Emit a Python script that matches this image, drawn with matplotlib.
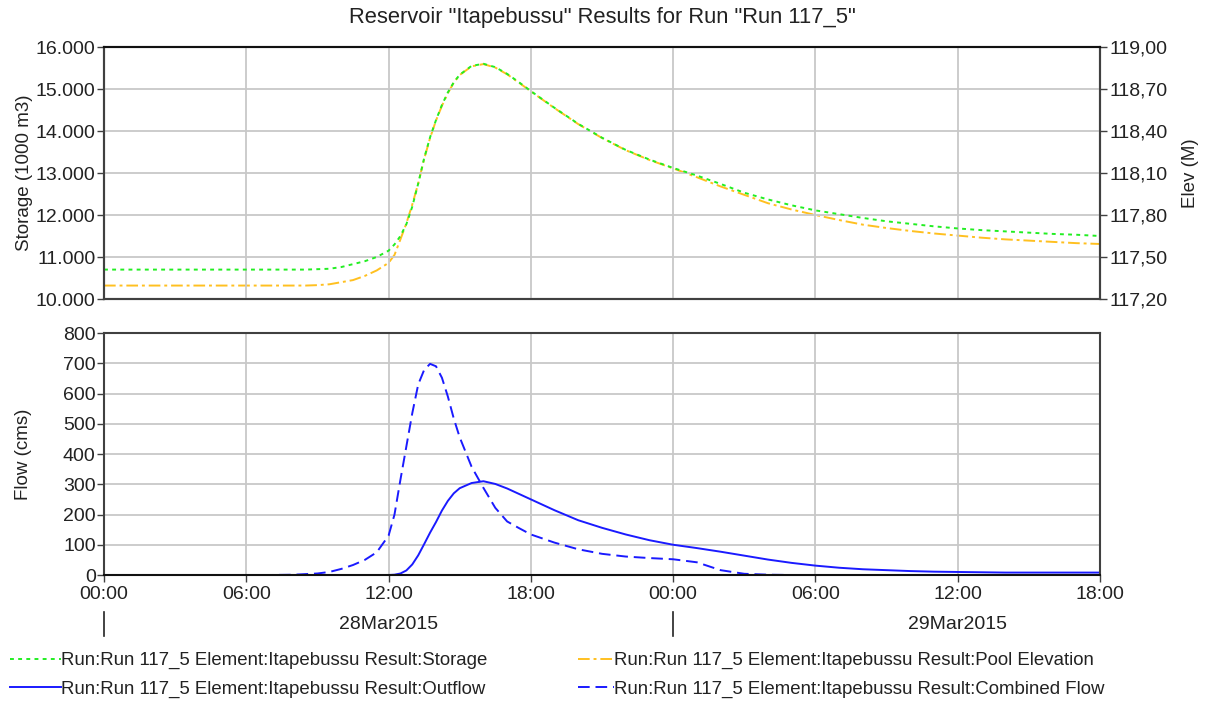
import matplotlib
matplotlib.use("Agg")
import matplotlib.pyplot as plt
import matplotlib.dates as mdates
import matplotlib.transforms as mtransforms
from matplotlib.lines import Line2D
from matplotlib.ticker import FuncFormatter, MultipleLocator
import pandas as pd

plt.rcParams["font.family"] = ["Liberation Sans", "DejaVu Sans"]

# ---- data -------------------------------------------------------------
TITLE = 'Reservoir "Itapebussu" Results for Run "Run 117_5"'
START = "2015-03-28 00:00"
END_HOURS = 42

HOURS = [0, 1, 2, 3, 4, 5, 6, 7, 8,
         8.5, 9, 9.5, 10, 10.5, 11, 11.5,
         12, 12.25, 12.5, 12.75, 13, 13.25, 13.5, 13.75, 14, 14.25, 14.5, 14.75, 15,
         15.5, 16, 16.5, 17, 17.5,
         18, 19, 20, 21, 22, 23, 24, 25, 26, 27, 28, 29, 30,
         31, 32, 33, 34, 35, 36, 37, 38, 39, 40, 41, 42]

# storage, 1000 m3
STORAGE = [10700, 10700, 10700, 10700, 10700, 10700, 10700, 10700, 10700,
           10700, 10710, 10720, 10760, 10830, 10900, 11000,
           11150, 11300, 11500, 11780, 12200, 12750, 13350, 13850, 14260, 14620, 14920, 15160, 15340,
           15550, 15600, 15520, 15360, 15160,
           14950, 14550, 14170, 13840, 13550, 13320, 13120, 12940, 12740, 12530, 12370, 12230, 12110,
           12020, 11930, 11850, 11790, 11730, 11680, 11640, 11610, 11580, 11550, 11530, 11500]

# pool elevation, m
POOL_ELEV = [117.296, 117.296, 117.296, 117.296, 117.296, 117.296, 117.296, 117.296, 117.296,
             117.296, 117.299, 117.305, 117.320, 117.335, 117.365, 117.404,
             117.458, 117.515, 117.626, 117.740, 117.875, 118.025, 118.200, 118.350, 118.475,
             118.580, 118.670, 118.745, 118.800,
             118.862, 118.878, 118.853, 118.805, 118.745,
             118.683, 118.563, 118.449, 118.350, 118.263, 118.193, 118.133, 118.070, 118.004,
             117.944, 117.884, 117.839, 117.800,
             117.764, 117.731, 117.707, 117.686, 117.668, 117.653, 117.638, 117.626, 117.617,
             117.608, 117.599, 117.593]

# outflow, cms
OUTFLOW = [0, 0, 0, 0, 0, 0, 0, 0, 0,
           0, 0, 0, 0, 0, 0, 0,
           0, 1, 5, 15, 35, 65, 102, 140, 175, 213, 245, 270, 287,
           304, 310, 301, 286, 268,
           250, 214, 181, 156, 134, 115, 100, 89, 77, 64, 51, 40, 31,
           24, 19, 16, 13, 11, 10, 9, 8, 8, 8, 8, 8]

# combined inflow, cms
COMBINED = [0, 0, 0, 0, 0, 0, 0, 0, 1,
            3, 5, 10, 20, 33, 50, 75,
            130, 200, 315, 425, 535, 630, 678, 698, 690, 652, 590, 517, 455,
            358, 288, 222, 177, 155,
            134, 107, 85, 70, 61, 56, 52, 42, 16, 4, 1, 0, 0,
            0, 0, 0, 0, 0, 0, 0, 0, 0, 0, 0, 0]

DAY_LABELS = ["28Mar2015", "29Mar2015"]
SERIES_LABELS = [
    "Run:Run 117_5 Element:Itapebussu Result:Storage",
    "Run:Run 117_5 Element:Itapebussu Result:Pool Elevation",
    "Run:Run 117_5 Element:Itapebussu Result:Outflow",
    "Run:Run 117_5 Element:Itapebussu Result:Combined Flow",
]

# ---- styling ----------------------------------------------------------
GREEN = "#22ee22"
ORANGE = "#ffc020"
BLUE = "#1a1aff"
GRID = "#c8c8c8"
SPINE = "#404040"
TEXT = "#222222"
TICK_FS = 14
LEG_FS = 13.4

W, H = 1205, 701
fig = plt.figure(figsize=(W / 100, H / 100), dpi=100)


def rect(x0, y0, x1, y1):
    return [x0 / W, 1 - y1 / H, (x1 - x0) / W, (y1 - y0) / H]


ax1 = fig.add_axes(rect(104, 47, 1100, 299))
ax2 = fig.add_axes(rect(104, 333, 1100, 575), sharex=ax1)
ax1r = ax1.twinx()

start = pd.Timestamp(START)
times = start + pd.to_timedelta(HOURS, unit="h")
t_end = start + pd.Timedelta(hours=END_HOURS)

# top panel: storage and pool elevation
l_el, = ax1r.plot(times, POOL_ELEV, color=ORANGE, lw=1.4, ls=(0, (6, 2, 1.5, 2)))
l_st, = ax1.plot(times, STORAGE, color=GREEN, lw=1.4, ls=(0, (2, 2.2)))
ax1.set_zorder(ax1r.get_zorder() + 1)
ax1.patch.set_visible(False)

ax1.set_ylim(10000, 16000)
ax1.yaxis.set_major_locator(MultipleLocator(1000))
ax1.yaxis.set_major_formatter(FuncFormatter(lambda v, p: f"{v:,.0f}".replace(",", ".")))
ax1r.set_ylim(117.2, 119.0)
ax1r.set_yticks([117.2, 117.5, 117.8, 118.1, 118.4, 118.7, 119.0])
ax1r.yaxis.set_major_formatter(FuncFormatter(lambda v, p: f"{v:.2f}".replace(".", ",")))

ax1.set_ylabel("Storage (1000 m3)", fontsize=13.5, color=TEXT, labelpad=2)
ax1r.set_ylabel("Elev (M)", fontsize=13.5, color=TEXT, labelpad=10)

# bottom panel: flows
l_out, = ax2.plot(times, OUTFLOW, color=BLUE, lw=1.4, ls="-")
l_cb, = ax2.plot(times, COMBINED, color=BLUE, lw=1.4, ls=(0, (6, 3)))
ax2.set_ylim(0, 800)
ax2.yaxis.set_major_locator(MultipleLocator(100))
ax2.set_ylabel("Flow (cms)", fontsize=13.5, color=TEXT, labelpad=22)

ax2.set_xlim(start, t_end)
ax2.xaxis.set_major_locator(mdates.HourLocator(byhour=range(0, 24, 6)))
ax2.xaxis.set_major_formatter(mdates.DateFormatter("%H:%M"))

for ax in (ax1, ax2):
    ax.grid(True, color=GRID, lw=1.3)
    ax.set_axisbelow(True)
    for s in ax.spines.values():
        s.set_color(SPINE)
        s.set_linewidth(1.5)
    ax.tick_params(axis="y", direction="out", length=5, width=1, color=SPINE,
                   labelsize=TICK_FS, labelcolor=TEXT, pad=1)
ax1.spines["top"].set_color("#111111")
ax2.spines["bottom"].set_color("#111111")
for s in ax1r.spines.values():
    s.set_color(SPINE)
    s.set_linewidth(1.5)
ax1r.tick_params(axis="y", direction="out", length=5, width=1, color=SPINE,
                 labelsize=TICK_FS, labelcolor=TEXT, pad=2)
ax1.tick_params(axis="x", length=0, labelbottom=False)
ax2.tick_params(axis="x", direction="out", length=5, width=1, color=SPINE,
                labelsize=TICK_FS, labelcolor=TEXT, pad=3)

# day labels and day separators under the time axis
trans = mtransforms.blended_transform_factory(ax2.transData, ax2.transAxes)
for i, lab in enumerate(DAY_LABELS):
    day0 = start + pd.Timedelta(days=i)
    noon = day0 + pd.Timedelta(hours=12)
    ax2.text(mdates.date2num(noon), -0.203, lab, transform=trans, ha="center", va="center",
             fontsize=TICK_FS, color=TEXT)
    ax2.add_line(Line2D([mdates.date2num(day0)] * 2, [-0.153, -0.252], transform=trans,
                        color=TEXT, lw=1.2, clip_on=False))

fig.suptitle(TITLE, x=0.5, y=1 - 17 / H, va="center", fontsize=15.8, color=TEXT)

# legends: two columns below the plots
fig.legend(handles=[l_st, l_out], labels=[SERIES_LABELS[0], SERIES_LABELS[2]],
           loc="upper left", bbox_to_anchor=(10 / W, 1 - 652 / H), frameon=False,
           fontsize=LEG_FS, handlelength=2.75, handletextpad=0.0, borderpad=0,
           borderaxespad=0, labelspacing=0.62, labelcolor=TEXT)
fig.legend(handles=[l_el, l_cb], labels=[SERIES_LABELS[1], SERIES_LABELS[3]],
           loc="upper left", bbox_to_anchor=(578 / W, 1 - 652 / H), frameon=False,
           fontsize=LEG_FS, handlelength=1.95, handletextpad=0.0, borderpad=0,
           borderaxespad=0, labelspacing=0.62, labelcolor=TEXT)

fig.savefig("out.png", dpi=100)
